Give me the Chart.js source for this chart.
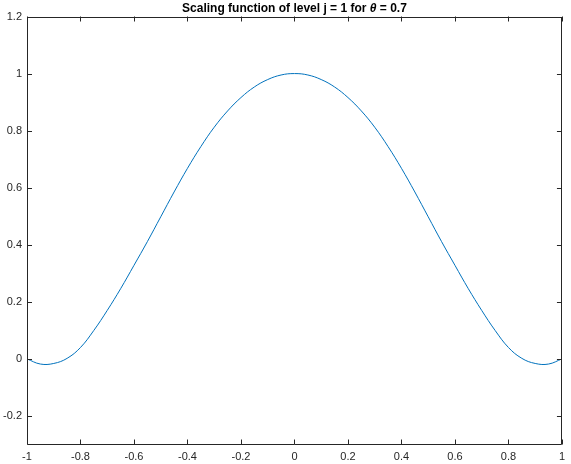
<!DOCTYPE html>
<html lang="en">
<head>
    <meta charset="UTF-8">
    <title>Scaling function</title>
    <style>
        html, body { margin: 0; padding: 0; background: #fff; }
        #wrap { width: 571px; height: 464px; }
    </style>
</head>
<body>
    <div id="wrap">
        <canvas id="scalingChart" width="571" height="464"></canvas>
    </div>

    <script src="https://cdn.jsdelivr.net/npm/chart.js"></script>
    <script>
        // values
        const xValues = [-1.00, -0.95, -0.90, -0.85, -0.80, -0.75, -0.70, -0.65, -0.60, -0.55,
                         -0.50, -0.45, -0.40, -0.35, -0.30, -0.25, -0.20, -0.15, -0.10, -0.05,
                          0.00,  0.05,  0.10,  0.15,  0.20,  0.25,  0.30,  0.35,  0.40,  0.45,
                          0.50,  0.55,  0.60,  0.65,  0.70,  0.75,  0.80,  0.85,  0.90,  0.95, 1.00];
        const phiValues = [0.000, -0.018, -0.016, 0.002, 0.040, 0.100, 0.170, 0.246, 0.328, 0.411,
                           0.498, 0.585, 0.668, 0.744, 0.812, 0.869, 0.916, 0.953, 0.979, 0.995,
                           1.000, 0.995, 0.979, 0.953, 0.916, 0.869, 0.812, 0.744, 0.668, 0.585,
                           0.498, 0.411, 0.328, 0.246, 0.170, 0.100, 0.040, 0.002, -0.016, -0.018, 0.000];
        const xTicks = [-1, -0.8, -0.6, -0.4, -0.2, 0, 0.2, 0.4, 0.6, 0.8, 1];
        const yTicks = [-0.2, 0, 0.2, 0.4, 0.6, 0.8, 1, 1.2];

        const axisColor = '#262626';
        const lineColor = '#0072BD';

        let points = [];
        for (let i = 0; i < xValues.length; i++) {
            points.push({ x: xValues[i], y: phiValues[i] });
        }

        // MATLAB style box with inward ticks, plus the title with italic theta
        const boxPlugin = {
            id: 'box',
            afterDraw(chart) {
                const ctx = chart.ctx;
                const a = chart.chartArea;
                const xs = chart.scales.x, ys = chart.scales.y;
                const tl = 5;
                ctx.save();
                ctx.strokeStyle = axisColor;
                ctx.lineWidth = 1;
                ctx.beginPath();
                ctx.rect(Math.round(a.left) + 0.5, Math.round(a.top) + 0.5,
                    Math.round(a.right - a.left) - 1, Math.round(a.bottom - a.top) - 1);
                ctx.stroke();
                ctx.beginPath();
                xTicks.forEach(v => {
                    const px = Math.round(xs.getPixelForValue(v)) + 0.5;
                    ctx.moveTo(px, a.bottom); ctx.lineTo(px, a.bottom - tl);
                    ctx.moveTo(px, a.top); ctx.lineTo(px, a.top + tl);
                });
                yTicks.forEach(v => {
                    const py = Math.round(ys.getPixelForValue(v)) + 0.5;
                    ctx.moveTo(a.left, py); ctx.lineTo(a.left + tl, py);
                    ctx.moveTo(a.right, py); ctx.lineTo(a.right - tl, py);
                });
                ctx.stroke();

                // title
                const parts = [
                    { t: 'Scaling function of level j = 1 for ', f: 'bold 12px "Liberation Sans", Arial, sans-serif' },
                    { t: '\u03B8', f: 'italic bold 12px "Liberation Sans", Arial, sans-serif' },
                    { t: ' = 0.7', f: 'bold 12px "Liberation Sans", Arial, sans-serif' }
                ];
                let total = 0;
                parts.forEach(p => { ctx.font = p.f; p.w = ctx.measureText(p.t).width; total += p.w; });
                let x = (a.left + a.right) / 2 - total / 2;
                ctx.fillStyle = '#000';
                ctx.textBaseline = 'middle';
                ctx.textAlign = 'left';
                parts.forEach(p => { ctx.font = p.f; ctx.fillText(p.t, x, 9); x += p.w; });
                ctx.restore();
            }
        };

        const data = {
            datasets: [{
                label: 'phi',
                data: points,
                borderColor: lineColor,
                backgroundColor: lineColor,
                borderWidth: 1,
                pointRadius: 0,
                tension: 0.4,
                fill: false
            }]
        };

        const config = {
            type: 'line',
            data: data,
            plugins: [boxPlugin],
            options: {
                responsive: false,
                animation: false,
                layout: { padding: { top: 16.5, right: 2, left: 0, bottom: 0 } },
                plugins: {
                    legend: { display: false },
                    title: { display: false },
                    tooltip: { enabled: false }
                },
                scales: {
                    x: {
                        type: 'linear',
                        min: -1,
                        max: 1,
                        grid: { display: false, drawTicks: false },
                        border: { display: false },
                        afterBuildTicks: s => { s.ticks = xTicks.map(v => ({ value: v })); },
                        afterFit: s => { s.height = 19.5; },
                        ticks: {
                            color: axisColor,
                            padding: 6,
                            maxRotation: 0,
                            autoSkip: false,
                            font: { family: '"Liberation Sans", Arial, sans-serif', size: 11 },
                            callback: v => String(Math.round(v * 10) / 10)
                        }
                    },
                    y: {
                        min: -0.3,
                        max: 1.2,
                        grid: { display: false, drawTicks: false },
                        border: { display: false },
                        afterBuildTicks: s => { s.ticks = yTicks.map(v => ({ value: v })); },
                        afterFit: s => { s.width = 27; },
                        ticks: {
                            color: axisColor,
                            padding: 5,
                            autoSkip: false,
                            font: { family: '"Liberation Sans", Arial, sans-serif', size: 11 },
                            callback: v => String(Math.round(v * 10) / 10)
                        }
                    }
                }
            }
        };

        const scalingChart = new Chart(document.getElementById('scalingChart'), config);
    </script>
</body>
</html>
